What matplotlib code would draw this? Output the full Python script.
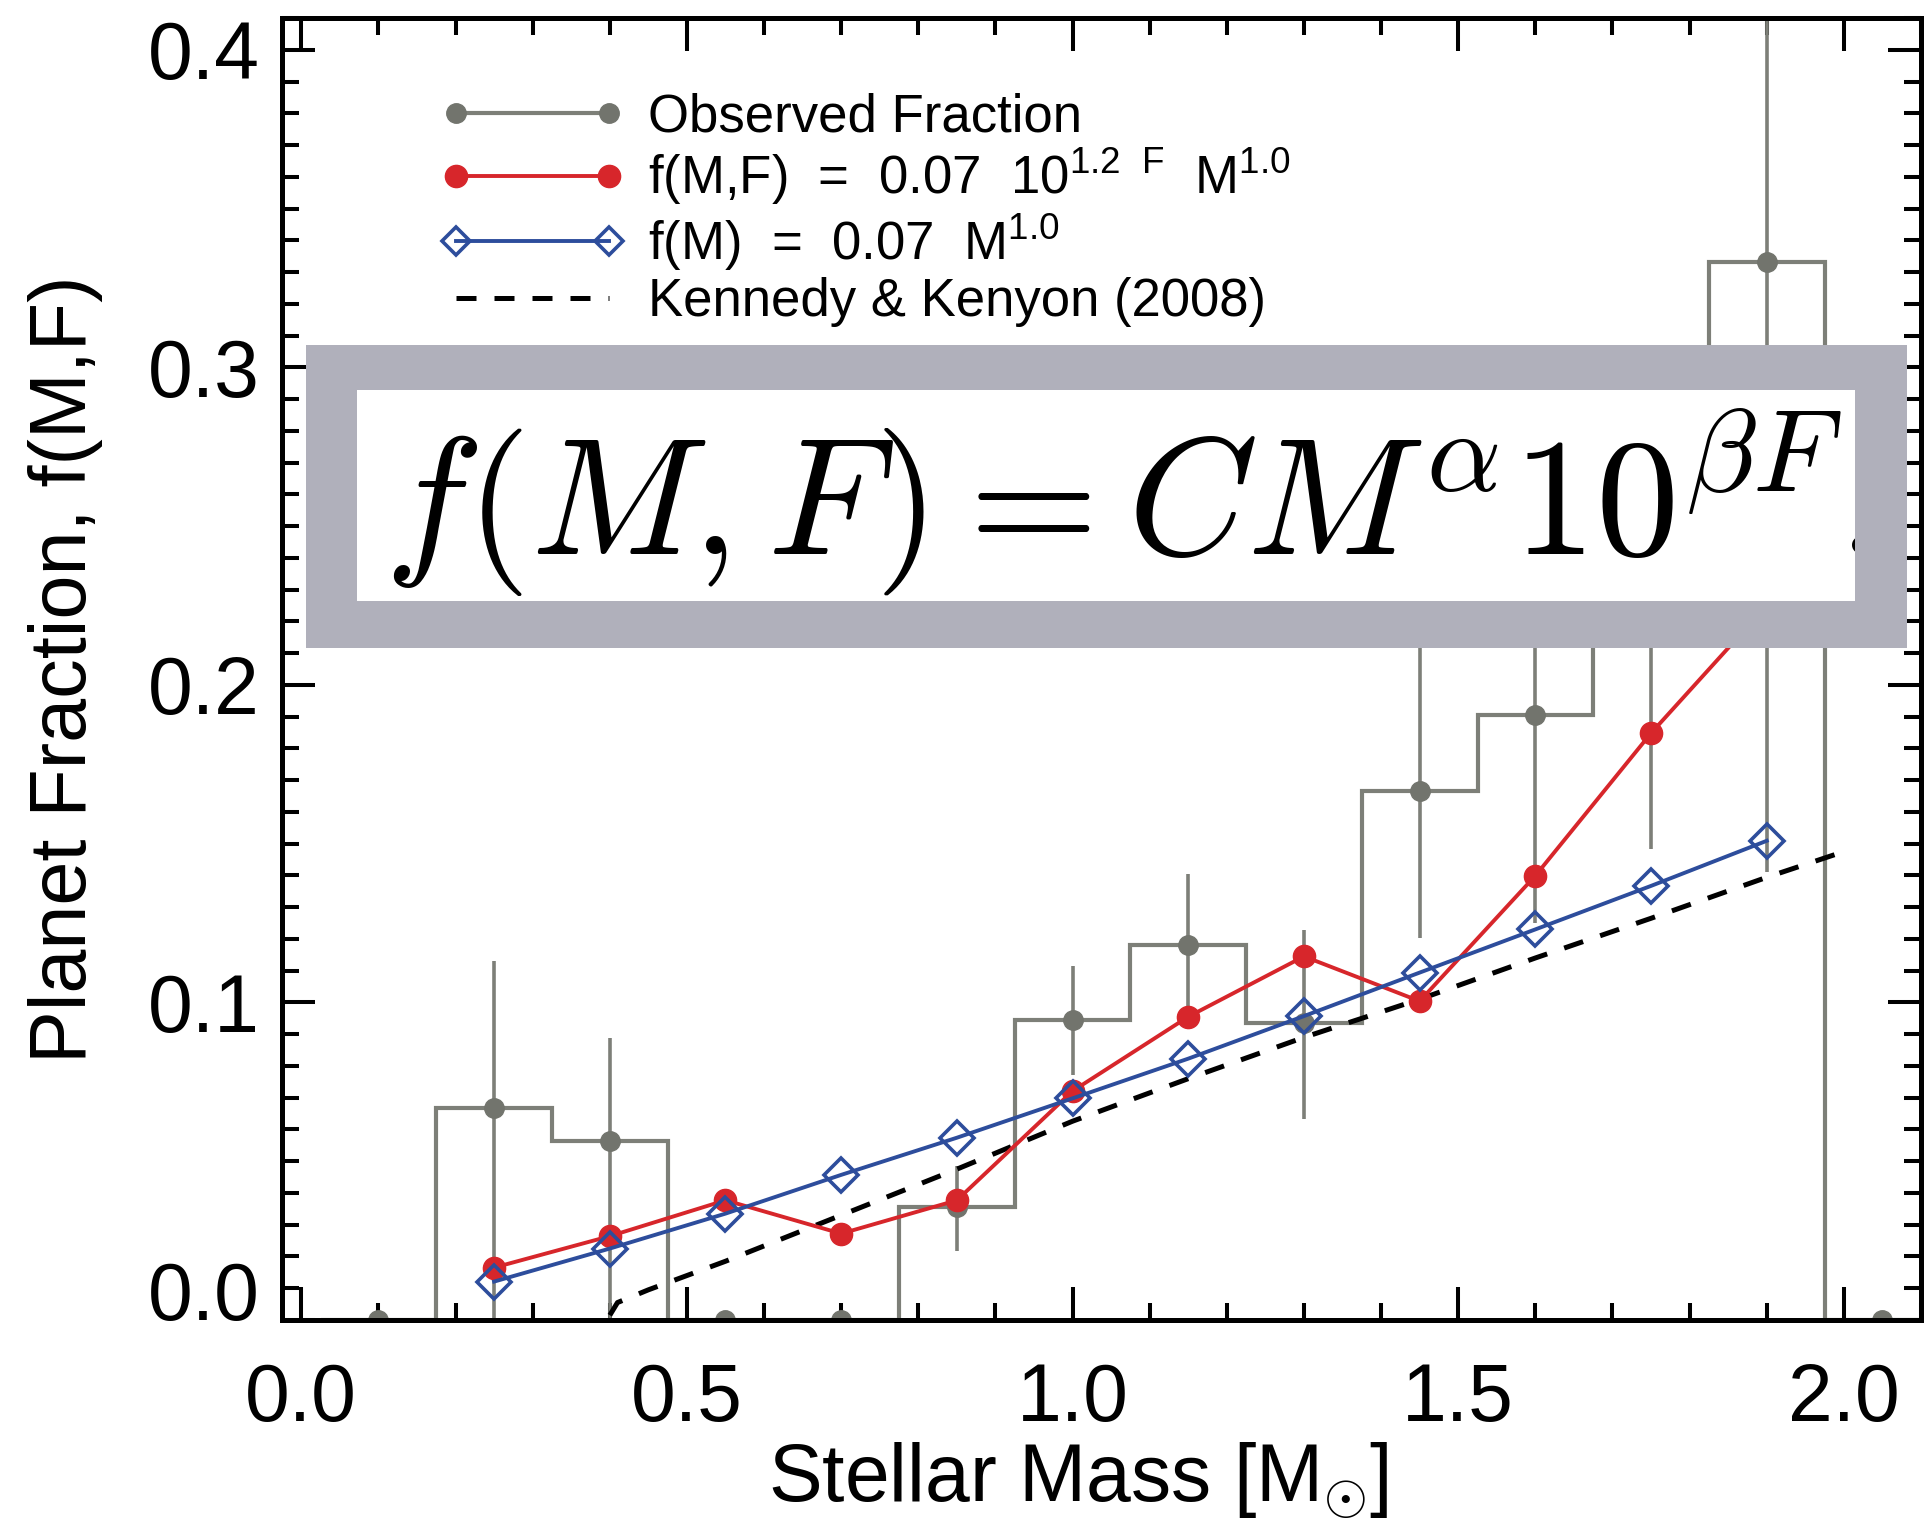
import numpy as np
import matplotlib
matplotlib.use("Agg")
import matplotlib.pyplot as plt
from matplotlib.lines import Line2D
from matplotlib.patches import Rectangle

plt.rcParams['font.family'] = ['Liberation Sans', 'DejaVu Sans']
plt.rcParams['mathtext.fontset'] = 'custom'
plt.rcParams['mathtext.rm'] = 'Liberation Sans'
plt.rcParams['mathtext.it'] = 'Liberation Sans:italic'
plt.rcParams['mathtext.bf'] = 'Liberation Sans:bold'

# model curves, evaluated at bin centres
mass = [0.25, 0.40, 0.55, 0.70, 0.85, 1.00, 1.15, 1.30, 1.45, 1.60, 1.75, 1.90]
frac_mf = [0.0165, 0.0264, 0.0377, 0.0272, 0.0377, 0.0721, 0.0955, 0.1145,
           0.1004, 0.1399, 0.1848, 0.2250]
frac_m = [0.0121, 0.0225, 0.0335, 0.0457, 0.0574, 0.0698, 0.0823, 0.0957,
          0.1094, 0.1230, 0.1367, 0.1509]

# observed fraction per mass bin, with lower / upper error limits
obs_mass = [0.10, 0.25, 0.40, 0.55, 0.70, 0.85, 1.00, 1.15, 1.30, 1.45, 1.60,
            1.75, 1.90, 2.05]
obs_frac = [0.0, 0.0667, 0.0565, 0.0, 0.0, 0.0357, 0.0945, 0.1180, 0.0935,
            0.1667, 0.1905, 0.2500, 0.3333, 0.0]
obs_lo = [0.0, 0.0, 0.0, 0.0, 0.0, 0.0218, 0.0772, 0.0960, 0.0633, 0.1204,
          0.1250, 0.1483, 0.1410, 0.0]
obs_hi = [0.0, 0.1130, 0.0889, 0.0, 0.0, 0.0486, 0.1116, 0.1404, 0.1229,
          0.2400, 0.2600, 0.2950, 0.5500, 0.0]
bin_width = 0.15

# Kennedy & Kenyon (2008)
kk_mass = [0.40, 0.41, 0.45, 0.55, 0.70, 0.85, 1.00, 1.15, 1.30, 1.45, 1.60,
           1.75, 1.90, 2.00]
kk_frac = [0.0015, 0.0055, 0.0095, 0.0185, 0.0330, 0.0475, 0.0626, 0.0760,
           0.0890, 0.1010, 0.1140, 0.1265, 0.1394, 0.1475]

labels = ['Observed Fraction',
          r'f(M,F)  =  0.07  10$^{1.2\ \ \mathrm{F}}$  M$^{1.0}$',
          r'f(M)  =  0.07  M$^{1.0}$',
          'Kennedy & Kenyon (2008)']

gray = '#7d7f78'
gray_dot = '#72746d'
red = '#d7262b'
blue = '#2d4d9c'

W, H = 1926, 1527
fig = plt.figure(figsize=(W / 100, H / 100), dpi=100)
ax = fig.add_axes([282 / W, 1 - 1320 / H, (1921 - 282) / W, (1320 - 18) / H])

c = np.array(obs_mass)
edges = np.append(c - bin_width / 2, c[-1] + bin_width / 2)
ax.stairs(obs_frac, edges, color=gray, lw=3.0, baseline=None, zorder=1)

f = np.array(obs_frac)
yerr = [f - np.array(obs_lo), np.array(obs_hi) - f]
yerr = [np.clip(yerr[0], 0, None), np.clip(yerr[1], 0, None)]
ax.errorbar(obs_mass, obs_frac, yerr=yerr, fmt='o', color=gray, ecolor=gray,
            mfc=gray_dot, mec=gray_dot, ms=14, elinewidth=2.6, capsize=0,
            zorder=2)

ax.plot(kk_mass, kk_frac, color='black', lw=3.6, dashes=(4, 3.6), zorder=3)
ax.plot(mass, frac_mf, color=red, lw=2.8, marker='o', ms=16, zorder=4)
ax.plot(mass, frac_m, color=blue, lw=2.8, marker='D', ms=17, mfc='none',
        mec=blue, mew=2.6, zorder=5)

ax.set_xlim(-0.025, 2.098)
ax.set_ylim(0.0, 0.41)
ax.set_xticks([0.0, 0.5, 1.0, 1.5, 2.0])
ax.set_xticks(np.arange(0, 2.11, 0.1), minor=True)
ax.set_yticks([0.0, 0.1, 0.2, 0.3, 0.4])
ax.set_yticks(np.arange(0, 0.411, 0.01), minor=True)
ax.set_xticklabels(['0.0', '0.5', '1.0', '1.5', '2.0'])
ax.set_yticklabels(['0.0', '0.1', '0.2', '0.3', '0.4'])
ax.tick_params(which='both', direction='in', top=True, right=True,
               labelsize=58, width=2.9)
ax.tick_params(which='major', length=24)
ax.tick_params(which='minor', length=12)
ax.tick_params(axis='x', pad=30)
ax.tick_params(axis='y', pad=16)
ax.yaxis.get_major_ticks()[0].label1.set_verticalalignment('baseline')
for s in ax.spines.values():
    s.set_linewidth(3.6)

ax.set_xlabel(r'Stellar Mass [M$_{\odot}$]', fontsize=58)
ax.xaxis.set_label_coords(0.4857, -0.093)
ax.set_ylabel('Planet Fraction, f(M,F)', fontsize=57)
ax.yaxis.set_label_coords(-0.109, 0.5)

handles = [
    Line2D([], [], color=gray, lw=3.0, marker='o', ms=14, mfc=gray_dot,
           mec=gray_dot),
    Line2D([], [], color=red, lw=2.8, marker='o', ms=16),
    Line2D([], [], color=blue, lw=2.8, marker='D', ms=14, mfc='none',
           mec=blue, mew=2.6),
    Line2D([], [], color='black', lw=3.6, dashes=(4, 3.6)),
]
leg = ax.legend(handles, labels, loc='upper left',
                bbox_to_anchor=((440 - 282) / 1639, (1320 - 92) / 1302),
                frameon=False, fontsize=38, numpoints=2, handlelength=3.5,
                handletextpad=0.45, labelspacing=0.08, borderpad=0,
                borderaxespad=0)

# formula box
outer = Rectangle((306 / W, 1 - 648 / H), (1907 - 306) / W, (648 - 345) / H,
                  transform=fig.transFigure, facecolor='#b0b0bb',
                  edgecolor='none', zorder=10)
inner = Rectangle((357 / W, 1 - 601 / H), (1855 - 357) / W, (601 - 390) / H,
                  transform=fig.transFigure, facecolor='white',
                  edgecolor='none', zorder=11)
fig.add_artist(outer)
fig.add_artist(inner)
eq = fig.text(384 / W, 1 - 556 / H, r'$f(M,F) = CM^{\alpha}10^{\beta F}.$',
              fontsize=120, math_fontfamily='cm', va='baseline', ha='left',
              zorder=12)
eq.set_clip_path(inner)

fig.savefig('out.png', dpi=100)
